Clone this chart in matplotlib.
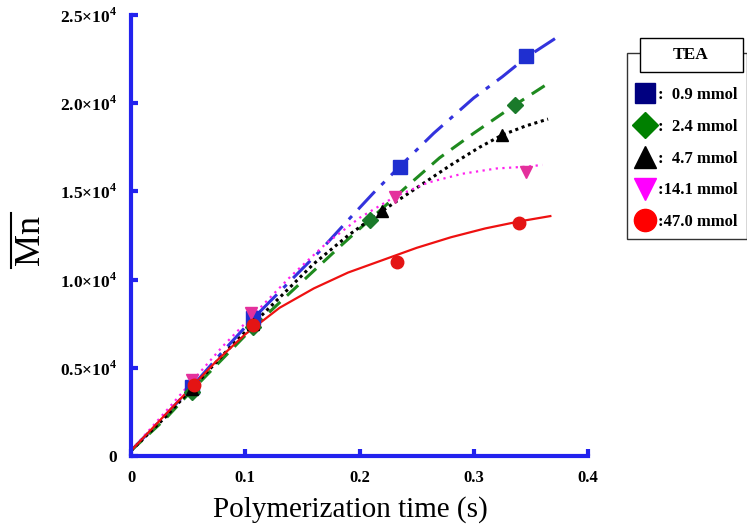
import numpy as np
import matplotlib.pyplot as plt
from matplotlib.lines import Line2D
from matplotlib.patches import Rectangle

plt.rcParams['font.family'] = 'Liberation Serif'
plt.rcParams['mathtext.fontset'] = 'custom'
plt.rcParams['mathtext.rm'] = 'Liberation Serif'
plt.rcParams['mathtext.bf'] = 'Liberation Serif:bold'

labels = [":  0.9 mmol", ":  2.4 mmol", ":  4.7 mmol", ":14.1 mmol", ":47.0 mmol"]

# measured points (time s, Mn)
t_09 = [0.053, 0.107, 0.235, 0.346]
mn_09 = [3900, 7800, 16400, 22700]
t_24 = [0.053, 0.107, 0.209, 0.336]
mn_24 = [3600, 7300, 13400, 19900]
t_47 = [0.053, 0.107, 0.220, 0.325]
mn_47 = [3800, 7500, 13900, 18200]
t_141 = [0.053, 0.105, 0.231, 0.346]
mn_141 = [4300, 8100, 14700, 16100]
t_470 = [0.055, 0.107, 0.233, 0.340]
mn_470 = [4000, 7400, 11000, 13200]

# fitted curves
ft_09 = [0.0, 0.03, 0.053, 0.08, 0.107, 0.139, 0.165, 0.189, 0.212, 0.235, 0.265, 0.30, 0.325, 0.346, 0.372]
fm_09 = [300, 2300, 3900, 5900, 7800, 9900, 11600, 13300, 14900, 16400, 18300, 20300, 21500, 22600, 23700]
ft_24 = [0.0, 0.03, 0.053, 0.08, 0.107, 0.135, 0.16, 0.185, 0.209, 0.24, 0.27, 0.30, 0.336, 0.367]
fm_24 = [300, 2100, 3700, 5500, 7300, 9000, 10500, 12000, 13400, 15200, 16900, 18300, 19900, 21200]
ft_47 = [0.0, 0.03, 0.053, 0.08, 0.107, 0.135, 0.16, 0.19, 0.220, 0.25, 0.28, 0.305, 0.325, 0.345, 0.365]
fm_47 = [300, 2200, 3800, 5700, 7500, 9300, 10900, 12500, 13900, 15200, 16500, 17500, 18200, 18700, 19100]
ft_141 = [0.0, 0.03, 0.053, 0.08, 0.107, 0.14, 0.17, 0.20, 0.231, 0.26, 0.29, 0.32, 0.346, 0.360]
fm_141 = [300, 2500, 4200, 6200, 8000, 10200, 12000, 13500, 14700, 15500, 16000, 16300, 16400, 16500]
ft_470 = [0.0, 0.025, 0.05, 0.075, 0.1, 0.13, 0.16, 0.19, 0.22, 0.25, 0.28, 0.31, 0.34, 0.367]
fm_470 = [300, 2000, 3700, 5400, 6900, 8400, 9500, 10400, 11100, 11800, 12400, 12900, 13300, 13600]

fig = plt.figure(figsize=(7.47, 5.28), dpi=100)
ax = fig.add_axes([0.1754, 0.1364, 0.6118, 0.8352])

ax.plot(ft_09, fm_09, color="#3333dd", lw=2.2, ls=(0, (8, 3, 1.5, 3)))
ax.plot(ft_24, fm_24, color="#1e8a1e", lw=2.2, ls=(0, (5, 3)))
ax.plot(ft_47, fm_47, color="black", lw=2.2, ls=(0, (1, 1.2)))
ax.plot(ft_141, fm_141, color="#ff22ee", lw=1.6, ls=(0, (1, 2)))
ax.plot(ft_470, fm_470, color="#ee1111", lw=1.6, ls="-")

ax.plot(t_09, mn_09, "s", color="#1f2fd0", ms=10, ls="none")
ax.plot(t_24, mn_24, "D", color="#1a7a2a", ms=8, ls="none")
ax.plot(t_47, mn_47, "^", color="black", ms=9, ls="none")
ax.plot(t_141, mn_141, "v", color="#e4309c", ms=9, ls="none")
ax.plot(t_470, mn_470, "o", color="#e41414", ms=9, ls="none")

ax.set_xlim(0, 0.4)
ax.set_ylim(0, 25000)
for s in ["top", "right"]:
    ax.spines[s].set_visible(False)
for s in ["left", "bottom"]:
    ax.spines[s].set_color("#2222ee")
    ax.spines[s].set_linewidth(3)
ax.set_xticks([0, 0.1, 0.2, 0.3, 0.4])
ax.set_xticklabels(["0", "0.1", "0.2", "0.3", "0.4"], fontweight="bold", fontsize=12)
ax.set_yticks([0, 5000, 10000, 15000, 20000, 25000])
ax.set_yticklabels(["0", "0.5×10$^\\mathbf{4}$", "1.0×10$^\\mathbf{4}$", "1.5×10$^\\mathbf{4}$",
                    "2.0×10$^\\mathbf{4}$", "2.5×10$^\\mathbf{4}$"],
                   fontweight="bold", fontsize=12.5)
ax.tick_params(direction="in", color="#2222ee", width=3, length=5, pad=10)

fig.text(350 / 747, 1 - 510 / 528, "Polymerization time (s)", fontsize=21,
         ha="center", va="center")
fig.text(30 / 747, 1 - 240 / 528, "Mn", fontsize=26, rotation=90, ha="center", va="center")
fig.add_artist(Line2D([11 / 747, 11 / 747], [1 - 213 / 528, 1 - 268 / 528],
                      transform=fig.transFigure, color="black", lw=1.5))

handles = [
    Line2D([], [], marker="s", color="#000080", ms=15, ls="none"),
    Line2D([], [], marker="D", color="#008000", ms=13, ls="none"),
    Line2D([], [], marker="^", color="black", ms=16, ls="none"),
    Line2D([], [], marker="v", color="#ff00ff", ms=16, ls="none"),
    Line2D([], [], marker="o", color="#ff0000", ms=16, ls="none"),
]
leg = fig.legend(handles, labels, loc="upper left", bbox_to_anchor=(627 / 747, 1 - 53 / 528),
                 frameon=True, fancybox=False, edgecolor="black", handlelength=1.0,
                 handletextpad=0.3, labelspacing=0.95, borderpad=0.55, borderaxespad=0,
                 title=" ", title_fontsize=7,
                 prop={"family": "Liberation Serif", "weight": "bold", "size": 12})
leg.get_frame().set_linewidth(1.0)
fig.add_artist(Rectangle((640 / 747, 1 - 72 / 528), 103 / 747, 34 / 528,
                         transform=fig.transFigure, fc="white", ec="black", lw=1.0, zorder=10))
fig.text(691 / 747, 1 - 55 / 528, "TEA", ha="center", va="center", fontsize=12.5,
         fontweight="bold", zorder=11)

fig.savefig("out.png", dpi=100)
